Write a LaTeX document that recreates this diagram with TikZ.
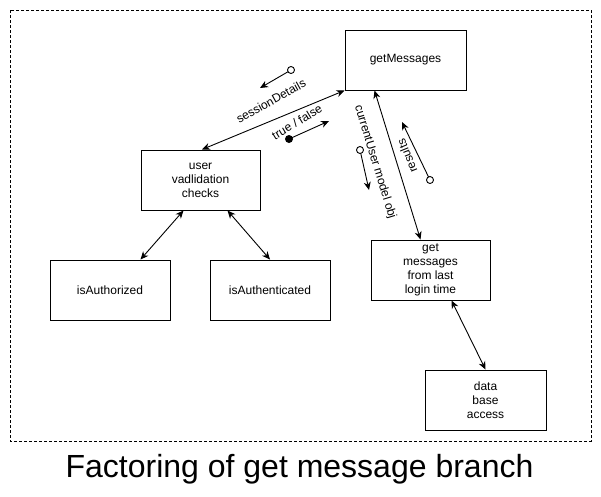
\documentclass[tikz,border=0pt]{standalone}
\usepackage{fontspec}
\setmainfont{Liberation Sans}
\usetikzlibrary{arrows.meta,calc}
\begin{document}
\begin{tikzpicture}[x=1pt,y=-1pt,
  blk/.style={draw, line width=1pt, minimum width=120pt, minimum height=60pt,
    align=center, inner sep=0pt, font=\fontsize{12}{14}\selectfont},
  tipa/.tip={Stealth[length=8pt,width=7pt,inset=2.5pt]},
  conn/.style={line width=0.9pt, tipa-tipa},
  small/.style={line width=0.9pt, -tipa},
  lbl/.style={inner sep=0pt, font=\fontsize{12}{14}\selectfont},
  ocirc/.style={draw, line width=0.9pt, fill=white},
]
\useasboundingbox (0,0) rectangle (601,496);
\draw[line width=0.8pt, dash pattern=on 3pt off 2pt] (10,10) rectangle (591,441);

\node[blk, minimum width=121pt] (gm) at (405.5,60) {getMessages};
\node[blk, minimum width=119pt] (uv) at (200.5,180) {user\\vadlidation\\checks};
\node[blk] (ia) at (110,290) {isAuthorized};
\node[blk] (iat) at (270,290) {isAuthenticated};
\node[blk, minimum width=119pt] (gl) at (430.5,270) {get\\messages\\from last\\login time};
\node[blk, minimum width=121pt] (db) at (485.5,400) {data\\base\\access};

\draw[conn] ([xshift=1.5pt]uv.north) -- (gm.south west);
\draw[conn] ([xshift=43pt]uv.south west) -- ([xshift=-30pt]ia.north east);
\draw[conn] ([xshift=-33pt]uv.south east) -- (iat.north);
\draw[conn] ([xshift=30pt]gm.south west) -- ([xshift=-10pt]gl.north);
\draw[conn] ([xshift=21pt]gl.south) -- (db.north);

% sessionDetails
\coordinate (sdA) at (291,70);
\coordinate (sdB) at (260,88);
\draw[small] (sdA) -- (sdB);
\draw[ocirc] (sdA) circle (3.5pt);
\node[lbl, rotate=29] (sdl) at (271,101) {sessionDetails};

% true / false
\coordinate (tfA) at (289,139);
\coordinate (tfB) at (329,121);
\draw[small] (tfA) -- (tfB);
\fill (tfA) circle (4pt);
\node[lbl, rotate=31] (tfl) at (297,122) {true / false};

% currentUser model obj
\coordinate (cuA) at (360,150);
\coordinate (cuB) at (369,190);
\draw[small] (cuA) -- (cuB);
\draw[ocirc] (cuA) circle (3.5pt);
\node[lbl, rotate=-73] (cul) at (375,162) {currentUser model obj};

% results
\coordinate (rsA) at (430,180);
\coordinate (rsB) at (402,122);
\draw[small] (rsA) -- (rsB);
\draw[ocirc] (rsA) circle (3.5pt);
\node[lbl, rotate=112] (rsl) at (407,156) {results};

\node[inner sep=0pt, anchor=base, font=\fontsize{32}{38}\selectfont] (title) at (299.5,477) {Factoring of get message branch};
\end{tikzpicture}
\end{document}
